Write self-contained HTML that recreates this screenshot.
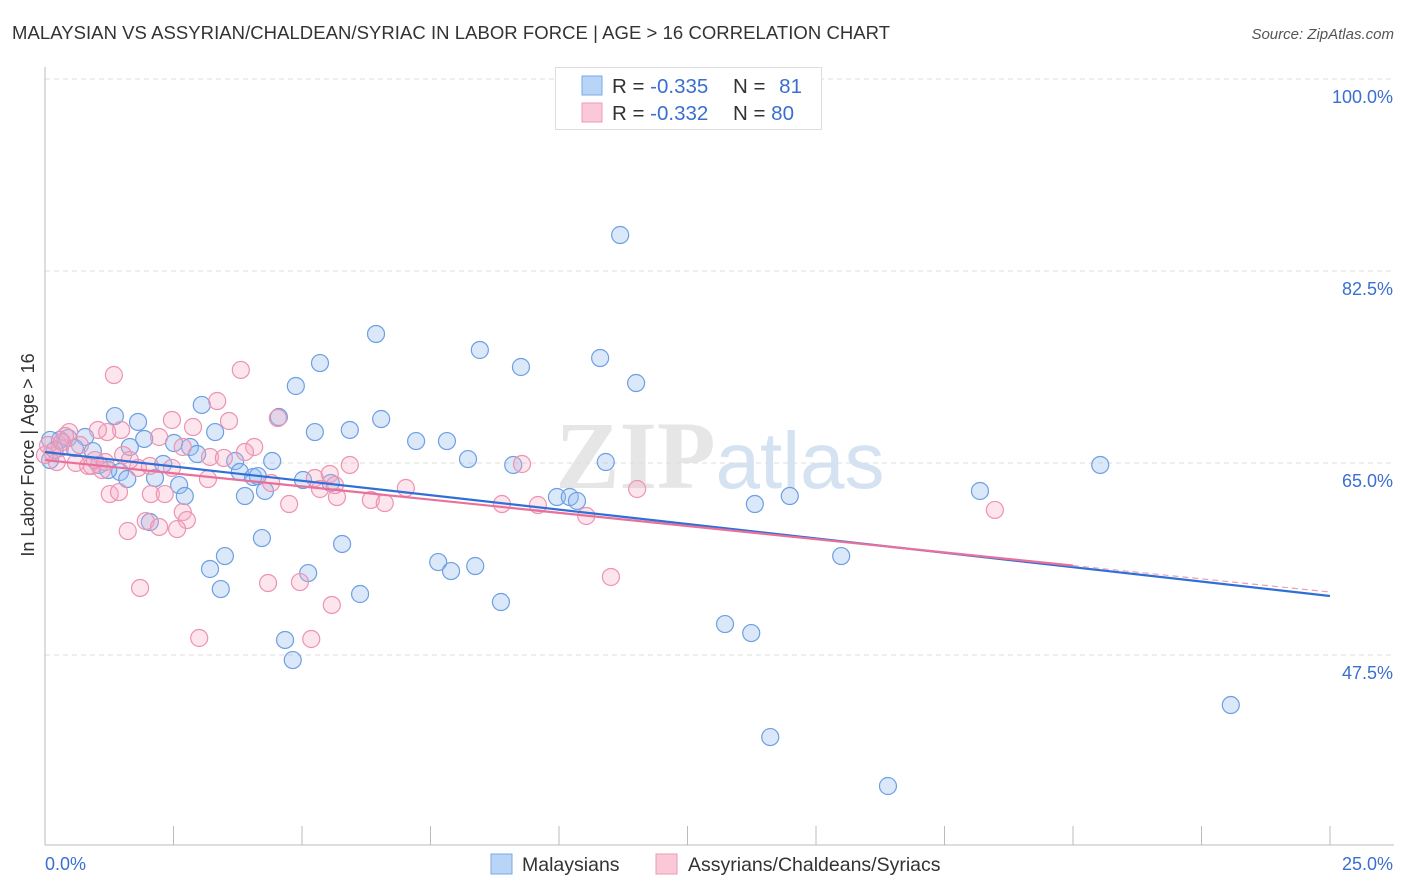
<!DOCTYPE html>
<html><head><meta charset="utf-8">
<style>
body{margin:0;background:#fff;font-family:"Liberation Sans",sans-serif;}
#wrap{position:relative;width:1406px;height:892px;overflow:hidden;}
</style></head>
<body>
<div id="wrap">
<svg id="chart" width="1406" height="892">
<text x="12" y="39" font-size="18.5" fill="#333" letter-spacing="0.05">MALAYSIAN VS ASSYRIAN/CHALDEAN/SYRIAC IN LABOR FORCE | AGE &gt; 16 CORRELATION CHART</text>
<text x="1394" y="39" font-size="15" fill="#555" font-style="italic" text-anchor="end">Source: ZipAtlas.com</text>
<text x="720" y="488" font-size="96" fill="#e6e6e6" text-anchor="middle" font-family="Liberation Serif,serif"><tspan font-weight="bold">ZIP</tspan><tspan font-family="Liberation Sans,sans-serif" fill="#d4e2f2" font-size="80">atlas</tspan></text>
<text transform="translate(34,455) rotate(-90)" font-size="18" fill="#333" text-anchor="middle">In Labor Force | Age &gt; 16</text>
<g id="grid"></g>
<g id="axes"></g>
<g id="pts"></g>
<g id="lines"></g>
<g>
<rect x="555.5" y="67.5" width="266" height="62" fill="#fff" stroke="#ddd"/>
<rect x="582" y="76" width="20" height="19" fill="#b8d4f6" stroke="#7aaae6"/>
<rect x="582" y="103" width="20" height="19" fill="#fbc8d8" stroke="#ee9ab6"/>
<text x="612" y="93" font-size="20.5" fill="#333">R = <tspan fill="#3a6fd0">-0.335</tspan></text>
<text x="733" y="93" font-size="20.5" fill="#333">N = <tspan fill="#3a6fd0" dx="8">81</tspan></text>
<text x="612" y="120" font-size="20.5" fill="#333">R = <tspan fill="#3a6fd0">-0.332</tspan></text>
<text x="733" y="120" font-size="20.5" fill="#333">N = <tspan fill="#3a6fd0">80</tspan></text>
</g>
<g>
<rect x="491" y="854" width="21" height="20" fill="#b8d4f6" stroke="#7aaae6"/>
<text x="522" y="871" font-size="19.5" fill="#333">Malaysians</text>
<rect x="656" y="854" width="21" height="20" fill="#fbc8d8" stroke="#ee9ab6"/>
<text x="688" y="871" font-size="19.5" fill="#333">Assyrians/Chaldeans/Syriacs</text>
</g>
</svg>
</div>
<script>
const yTicks=[100,82.5,65,47.5];
const yTickLabels=["100.0%","82.5%","65.0%","47.5%"];
const xTickLabels=["0.0%","25.0%"];
const blueX=[11.19,6.44,8.46,10.80,5.35,9.26,11.50,4.88,3.05,6.54,4.55,1.36,1.81,3.31,5.25,5.93,7.22,7.82,1.93,2.51,2.82,2.96,0.78,0.29,0.10,0.45,1.65,0.93,8.23,4.42,3.70,2.30,1.05,9.11,10.91,20.53,1.46,3.79,4.05,4.14,5.02,5.56,2.14,1.60,2.61,2.72,3.89,4.28,9.96,10.21,10.35,13.81,14.49,18.19,2.04,4.22,5.78,7.65,7.90,8.37,3.50,3.21,5.12,15.49,3.42,6.13,8.87,13.23,13.74,4.67,4.82,23.07,14.11,16.40,0.10,0.19,0.58,1.23];
const blueY=[85.78,76.76,75.30,74.57,74.11,73.75,72.29,72.02,70.29,69.01,69.19,69.28,68.74,67.82,67.82,68.01,67.00,67.00,67.19,66.82,66.46,65.82,67.37,67.10,67.10,67.28,66.46,66.09,65.36,65.18,65.18,64.91,64.82,64.82,65.09,64.82,64.18,64.18,63.72,63.81,63.45,63.18,63.63,63.54,62.99,61.99,61.99,62.45,61.90,61.90,61.54,61.26,61.99,62.45,59.62,58.16,57.62,55.97,55.15,55.61,56.52,55.34,54.97,56.52,53.51,53.06,52.33,50.32,49.50,48.87,47.04,42.94,40.02,35.56,65.27,66.18,66.36,64.36];
const pinkX=[1.34,3.81,3.35,3.58,2.47,4.53,2.88,1.48,1.21,1.03,0.47,0.39,2.22,2.68,4.07,3.89,3.21,3.48,1.52,0.29,0.14,0.23,0.60,0.84,0.91,1.11,1.81,2.04,2.47,3.17,4.40,5.25,5.54,5.93,5.35,5.68,7.02,6.34,6.61,8.89,9.59,9.28,10.53,11.52,18.48,1.26,1.44,2.06,2.33,4.75,2.68,2.76,1.96,2.22,1.61,2.57,1.85,4.34,4.96,5.58,11.01,3.00,5.18,0.00,0.06,0.33,0.68,0.97,1.65,5.64,1.17];
const pinkY=[73.02,73.48,70.65,68.83,68.92,69.10,68.28,68.01,67.82,68.01,67.82,67.46,67.37,66.46,66.46,66.00,65.55,65.46,65.73,66.36,66.00,65.09,65.00,64.73,64.73,64.36,64.55,64.73,64.55,63.54,63.18,63.63,64.00,64.82,62.63,61.90,62.72,61.63,61.35,61.26,61.17,64.91,60.17,62.63,60.72,62.17,62.35,62.17,62.17,61.26,60.53,59.80,59.71,59.17,58.80,58.98,53.61,54.06,54.15,52.06,54.61,49.05,48.96,65.73,66.64,66.91,66.64,65.27,65.27,62.99,65.09];
const blueTrend=[66.0,52.88];
const pinkTrend=[65.27,53.24];
const pinkSolidEnd=20;

const NS="http://www.w3.org/2000/svg";
const X0=45,X1=1330,Y100=79,PXPER=192/17.5;
const sx=v=>X0+(v/25)*(X1-X0);
const sy=v=>Y100+(100-v)*PXPER;
function mk(tag,attrs,parent){const e=document.createElementNS(NS,tag);for(const k in attrs)e.setAttribute(k,attrs[k]);parent.appendChild(e);return e;}
const grid=document.getElementById('grid'),axes=document.getElementById('axes'),pts=document.getElementById('pts'),lines=document.getElementById('lines');
yTicks.forEach((t,i)=>{
 const l=mk('line',{x1:X0,x2:1394,y1:sy(t),y2:sy(t),stroke:'#ddd','stroke-dasharray':'5,4'},grid);
 
 
 const tx=mk('text',{x:1393,y:sy(t)+24,'font-size':18,fill:'#3a6fd0','text-anchor':'end'},axes);
 tx.textContent=yTickLabels[i];
 
 
});
mk('line',{x1:45,x2:45,y1:67,y2:845,stroke:'#bbb'},axes);
mk('line',{x1:45,x2:1394,y1:845,y2:845,stroke:'#bbb'},axes);
for(let i=1;i<=10;i++){const x=sx(i*2.5);mk('line',{x1:x,x2:x,y1:826,y2:845,stroke:'#bbb'},axes);}
const xl0=mk('text',{x:45,y:870,'font-size':18,fill:'#3a6fd0'},axes);xl0.textContent=xTickLabels[0];


const xl1=mk('text',{x:1393,y:870,'font-size':18,fill:'#3a6fd0','text-anchor':'end'},axes);xl1.textContent=xTickLabels[1];


blueX.forEach((v,i)=>{
 const c=mk('circle',{cx:sx(v),cy:sy(blueY[i]),r:8.5,fill:'rgba(150,190,240,0.35)',stroke:'#6d9fe2','stroke-width':1.2},pts);
 
 
});
pinkX.forEach((v,i)=>{
 const c=mk('circle',{cx:sx(v),cy:sy(pinkY[i]),r:8.5,fill:'rgba(245,170,195,0.3)',stroke:'#ec93b2','stroke-width':1.2},pts);
 
 
});
const bl=mk('line',{x1:sx(0),y1:sy(blueTrend[0]),x2:sx(25),y2:sy(blueTrend[1]),stroke:'#2f6fd6','stroke-width':2.2},lines);


const pAt=x=>pinkTrend[0]+(pinkTrend[1]-pinkTrend[0])*x/25;
const pl=mk('line',{x1:sx(0),y1:sy(pAt(0)),x2:sx(pinkSolidEnd),y2:sy(pAt(pinkSolidEnd)),stroke:'#e8709a','stroke-width':2.2},lines);


const pd=mk('line',{x1:sx(pinkSolidEnd),y1:sy(pAt(pinkSolidEnd)),x2:sx(25),y2:sy(pAt(25)),stroke:'#e8a0b8','stroke-width':1.2,'stroke-dasharray':'6,4'},lines);


</script>
</body></html>
